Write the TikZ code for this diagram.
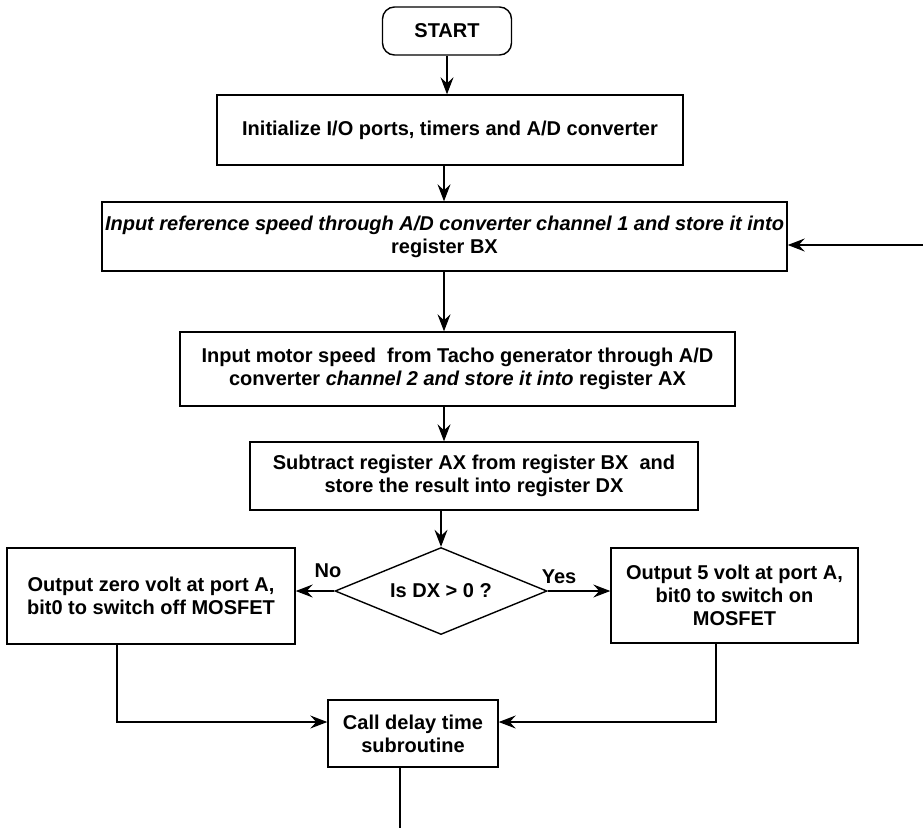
\documentclass[tikz,border=0pt]{standalone}
\usepackage{fontspec}
\setmainfont{Liberation Sans}
\usetikzlibrary{shapes.geometric,arrows.meta}
\newcommand{\zl}[1]{\makebox[0pt][c]{#1}}
\begin{document}
\begin{tikzpicture}[x=1pt,y=-1pt,
  every node/.style={font=\fontsize{20}{23}\selectfont\bfseries},
  box/.style={draw, line width=1.4pt, inner sep=0pt, align=center},
  con/.style={line width=1.2pt},
  arr/.style={con, -{Stealth[length=17pt,width=13pt,inset=6pt]}},
  lbl/.style={inner sep=0pt}]
\useasboundingbox (0,0) rectangle (923,828);
\coordinate (col) at (444,0);
\node[box, rounded corners=12pt, minimum width=129pt, minimum height=48pt] (start) at (447,31) {START};
\node[box, minimum width=466pt, minimum height=70pt] (b1) at (450,130) {\zl{Initialize I/O ports, timers and A/D converter}};
\node[box, minimum width=685pt, minimum height=69pt] (b2) at (444.5,236.5) {\zl{\itshape Input reference speed through A/D converter channel 1 and store it into}\\ \zl{register BX}};
\node[box, minimum width=555pt, minimum height=74pt] (b3) at (457.5,369) {\zl{Input motor speed\ \ from Tacho generator through A/D}\\ \zl{converter {\itshape channel 2 and store it into} register AX}};
\node[box, minimum width=448pt, minimum height=68pt] (b4) at (474,476) {\zl{Subtract register AX from register BX\ \ and}\\ \zl{store the result into register DX}};
\node[box, diamond, aspect=2.44, minimum width=212pt, minimum height=87pt] (dec) at (441,591) {Is DX > 0 ?};
\node[box, minimum width=288pt, minimum height=96pt] (lb) at (151,596) {\zl{Output zero volt at port A,}\\ \zl{bit0 to switch off MOSFET}};
\node[box, minimum width=247pt, minimum height=95pt] (rb) at (734.5,595.5) {\zl{Output 5 volt at port A,}\\ \zl{bit0 to switch on}\\ \zl{MOSFET}};
\node[box, minimum width=170pt, minimum height=67pt] (delay) at (413,733.5) {\zl{Call delay time}\\ \zl{subroutine}};
\node[lbl] (no) at (328,571) {No};
\node[lbl] (yes) at (559,577) {Yes};
\draw[arr] (start.south) -- (start.south |- b1.north);
\draw[arr] (b1.south -| col) -- (b2.north -| col);
\draw[arr] (b2.south -| col) -- (b3.north -| col);
\draw[arr] (b3.south -| col) -- (b4.north -| col);
\draw[arr] (b4.south -| dec.north) -- (dec.north);
\draw[arr] (dec.west) -- (dec.west -| lb.east);
\draw[arr] (dec.east) -- (dec.east -| rb.west);
\coordinate (lx) at (117,0);
\coordinate (rx) at (716,0);
\coordinate (jy) at (0,722);
\draw[arr] (lb.south -| lx) |- (delay.west |- jy);
\draw[arr] (rb.south -| rx) |- (delay.east |- jy);
\coordinate (bot) at (400,828);
\draw[con] (delay.south -| bot) -- (bot);
\coordinate (fb) at (923,245);
\draw[arr] (fb) -- (fb -| b2.east);
\end{tikzpicture}
\end{document}
